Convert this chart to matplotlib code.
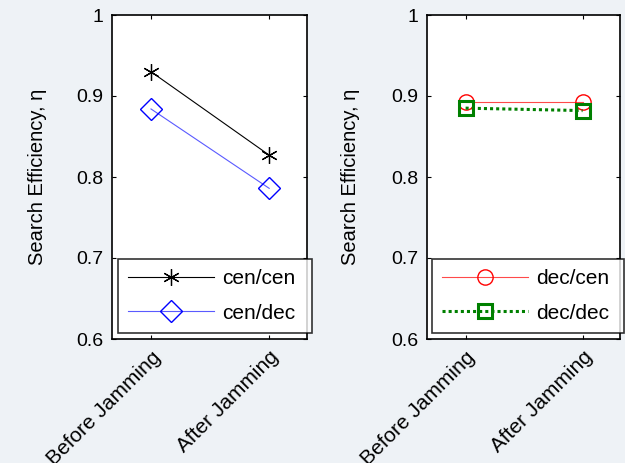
import matplotlib
matplotlib.use("Agg")
import matplotlib.pyplot as plt

plt.rcParams['font.family'] = ['Liberation Sans', 'DejaVu Sans']

# data
phases = ['Before Jamming', 'After Jamming']
x = [1, 2]
cen_cen = [0.930, 0.827]
cen_dec = [0.884, 0.786]
dec_cen = [0.892, 0.892]
dec_dec = [0.885, 0.882]
yticks = [0.6, 0.7, 0.8, 0.9, 1.0]
ytick_labels = ['0.6', '0.7', '0.8', '0.9', '1']

fig = plt.figure(figsize=(6.25, 4.63), dpi=100)
fig.patch.set_facecolor('#eef2f6')

W, H = 625, 463
ax1 = fig.add_axes([112 / W, 1 - 339 / H, 195 / W, 324 / H])
ax2 = fig.add_axes([427 / W, 1 - 339 / H, 193 / W, 324 / H])

ax1.plot(x, cen_cen, color='black', lw=0.8, marker=(6, 2, 0), ms=12,
         mew=0.9, label='cen/cen')
ax1.plot(x, cen_dec, color='#5a5aff', lw=0.8, marker='D', ms=11, mfc='none',
         mec='blue', mew=1.0, label='cen/dec')
ax2.plot(x, dec_cen, color='#ff4a4a', lw=0.8, marker='o', ms=11, mfc='none',
         mec='red', mew=1.0, label='dec/cen')
ax2.plot(x, dec_dec, color='green', lw=2.2, ls=(0, (1, 1.0)), marker='s',
         ms=9.5, mfc='none', mew=2.2, label='dec/dec')

# (axes, legend x0, legend width, ylabel x)
for ax, lx, lw_, yl in ((ax1, 0.031, 0.995, -0.333),
                        (ax2, 0.026, 0.995, -0.347)):
    ax.set_facecolor('white')
    ax.set_xlim(0.67, 2.32)
    ax.set_ylim(0.6, 1.0)
    ax.set_yticks(yticks)
    ax.set_yticklabels(ytick_labels)
    ax.set_xticks(x)
    ax.set_xticklabels(phases, rotation=45, ha='right', va='top',
                       rotation_mode='anchor', fontsize=15)
    ax.tick_params(direction='in', length=3, width=0.8, top=True,
                   right=True, pad=6)
    ax.tick_params(axis='y', labelsize=14)
    for s in ax.spines.values():
        s.set_linewidth(1.2)
    ax.set_ylabel('Search Efficiency, \u03b7', fontsize=14.5)
    ax.yaxis.set_label_coords(yl, 0.5)
    leg = ax.legend(loc='lower left', mode='expand', fontsize=15,
                    frameon=True, fancybox=False, edgecolor='black',
                    handlelength=4.1, handletextpad=0.4, labelspacing=0.75,
                    borderpad=0.5, borderaxespad=0,
                    bbox_to_anchor=(lx, 0.0185, lw_, 0.23))
    leg.get_frame().set_linewidth(1.2)

fig.savefig('out.png', dpi=100, facecolor=fig.get_facecolor())
